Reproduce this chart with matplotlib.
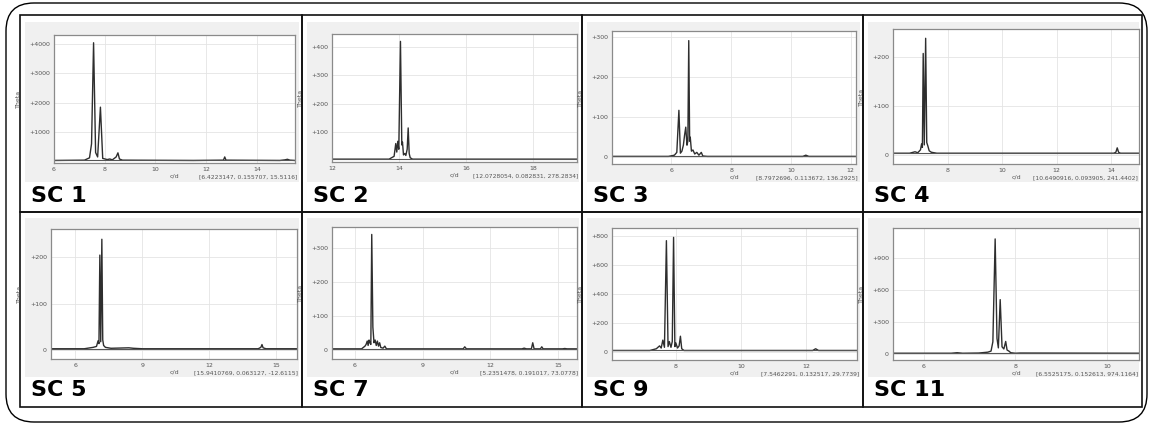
import matplotlib
matplotlib.use("Agg")
import matplotlib.pyplot as plt
from matplotlib.patches import FancyBboxPatch, Rectangle

W, H = 1152, 428

# --- data (frequency c/d, Theta) ---
sc1_x = [6.0, 7.2, 7.4, 7.48, 7.56, 7.64, 7.72, 7.83, 7.92, 8.1, 8.2, 8.3, 8.45, 8.52, 8.58, 8.7,
         11.5, 12.68, 12.73, 12.78, 14.9, 15.1, 15.2, 15.3, 15.5]
sc1_y = [30, 40, 120, 600, 4050, 300, 150, 1850, 100, 60, 80, 50, 150, 290, 80, 40,
         30, 40, 150, 40, 30, 50, 70, 40, 30]
sc2_x = [12.03, 13.7, 13.85, 13.9, 13.93, 13.96, 13.99, 14.04, 14.08, 14.1, 14.13, 14.17, 14.2,
         14.24, 14.27, 14.3, 14.33, 14.4, 19.3]
sc2_y = [5, 5, 15, 60, 30, 68, 40, 420, 55, 65, 20, 25, 18, 40, 115, 25, 10, 5, 5]
sc3_x = [4.01, 5.9, 6.1, 6.18, 6.25, 6.3, 6.35, 6.4, 6.44, 6.48, 6.52, 6.55, 6.58, 6.61, 6.63,
         6.67, 6.72, 6.78, 6.85, 6.92, 7.0, 7.05, 7.2, 10.4, 10.5, 10.6, 12.18]
sc3_y = [2, 2, 5, 12, 117, 10, 15, 30, 55, 75, 30, 40, 291, 40, 50,
         15, 18, 8, 12, 5, 12, 3, 2, 2, 5, 2, 2]
sc4_x = [5.99, 6.6, 6.8, 6.9, 7.0, 7.04, 7.07, 7.1, 7.14, 7.19, 7.23, 7.27, 7.32, 7.4, 7.6,
         14.1, 14.18, 14.23, 14.28, 14.35, 15.03]
sc4_y = [3, 3, 6, 4, 10, 22, 15, 207, 20, 238, 25, 18, 8, 5, 3, 3, 5, 14, 5, 3, 3]
sc5_x = [4.91, 6.4, 6.8, 6.95, 7.02, 7.06, 7.1, 7.14, 7.19, 7.23, 7.27, 7.35, 7.6, 8.4, 8.6, 9.0,
         14.2, 14.32, 14.37, 14.42, 14.55, 15.94]
sc5_y = [3, 3, 6, 8, 20, 14, 204, 18, 238, 22, 10, 6, 4, 5, 4, 3, 3, 6, 12, 5, 3, 3]
sc7_x = [4.99, 6.3, 6.45, 6.5, 6.55, 6.59, 6.63, 6.67, 6.71, 6.75, 6.8, 6.85, 6.9, 6.95, 7.0,
         7.05, 7.1, 7.15, 7.25, 7.33, 7.4, 10.8, 10.87, 10.94, 13.4, 13.5, 13.6, 13.82, 13.88,
         13.94, 14.22, 14.28, 14.34, 15.2, 15.3, 15.4, 15.84]
sc7_y = [2, 2, 10, 15, 25, 12, 28, 20, 15, 340, 66, 20, 28, 12, 25,
         10, 20, 6, 4, 10, 2, 2, 8, 2, 2, 4, 2, 2, 20,
         2, 2, 8, 2, 2, 3, 2, 2]
sc9_x = [6.04, 7.2, 7.4, 7.5, 7.55, 7.6, 7.65, 7.71, 7.76, 7.8, 7.85, 7.89, 7.93, 7.97, 8.0,
         8.05, 8.1, 8.14, 8.18, 8.25, 12.2, 12.29, 12.38, 13.56]
sc9_y = [8, 8, 20, 40, 25, 80, 30, 770, 35, 70, 30, 70, 793, 35, 60,
         25, 40, 107, 20, 8, 8, 20, 8, 8]
sc11_x = [5.33, 6.6, 6.73, 6.85, 7.2, 7.4, 7.47, 7.51, 7.56, 7.6, 7.63, 7.67, 7.71, 7.75, 7.79,
          7.82, 7.86, 7.9, 8.0, 8.1, 10.7]
sc11_y = [10, 10, 15, 10, 12, 20, 30, 117, 1076, 148, 60, 510, 70, 50, 120,
          40, 30, 15, 10, 12, 10]

titles = ["SC 1", "SC 2", "SC 3", "SC 4", "SC 5", "SC 7", "SC 9", "SC 11"]
xs = [sc1_x, sc2_x, sc3_x, sc4_x, sc5_x, sc7_x, sc9_x, sc11_x]
ys = [sc1_y, sc2_y, sc3_y, sc4_y, sc5_y, sc7_y, sc9_y, sc11_y]
xlims = [(6, 15.5), (12.03, 19.3), (4.01, 12.18), (5.99, 15.03),
         (4.91, 15.94), (4.99, 15.84), (6.04, 13.56), (5.33, 10.7)]
ylims = [(-57, 4315), (-5, 446), (-17, 315), (-19, 257),
         (-19, 260), (-28, 362), (-58, 858), (-53, 1178)]
xticks = [[6, 8, 10, 12, 14], [12, 14, 16, 18], [6, 8, 10, 12], [8, 10, 12, 14],
          [6, 9, 12, 15], [6, 9, 12, 15], [8, 10, 12], [6, 8, 10]]
yticks = [[1000, 2000, 3000, 4000], [100, 200, 300, 400], [0, 100, 200, 300], [0, 100, 200],
          [0, 100, 200], [0, 100, 200, 300], [0, 200, 400, 600, 800], [0, 300, 600, 900]]
readouts = ["[6.4223147, 0.155707, 15.5116]", "[12.0728054, 0.082831, 278.2834]",
            "[8.7972696, 0.113672, 136.2925]", "[10.6490916, 0.093905, 241.4402]",
            "[15.9410769, 0.063127, -12.6115]", "[5.2351478, 0.191017, 73.0778]",
            "[7.5462291, 0.132517, 29.7739]", "[6.5525175, 0.152613, 974.1164]"]

# pixel layout
col_edges = [20, 302, 582, 863, 1142]
row_edges = [15, 212, 407]
axes_px = [(54, 35, 295, 163), (332, 34, 577, 162), (612, 31, 856, 164), (893, 29, 1139, 164),
           (51, 229, 297, 359), (332, 227, 577, 359), (612, 228, 857, 360), (893, 228, 1139, 360)]


def frac(x0, y0, x1, y1):
    return [x0 / W, 1 - y1 / H, (x1 - x0) / W, (y1 - y0) / H]


fig = plt.figure(figsize=(W / 100, H / 100), dpi=100)
bg = fig.add_axes([0, 0, 1, 1])
bg.set_xlim(0, W)
bg.set_ylim(H, 0)
bg.axis("off")

# outer rounded frame
bg.add_patch(FancyBboxPatch((6, 3), 1141, 419, boxstyle="round,pad=0,rounding_size=28",
                            fc="white", ec="black", lw=1.0))

for i in range(8):
    r, c = divmod(i, 4)
    cx0, cx1 = col_edges[c], col_edges[c + 1]
    cy0, cy1 = row_edges[r], row_edges[r + 1]
    gy0, gy1 = (22, 182) if r == 0 else (218, 377)
    bg.add_patch(Rectangle((cx0 + 5, gy0), cx1 - cx0 - 8, gy1 - gy0, fc="#f0f0f0", ec="none"))
    bg.add_patch(Rectangle((cx0, cy0), cx1 - cx0, cy1 - cy0, fc="none", ec="#111111", lw=1.2))
    bg.text(cx0 + 11, 196 if r == 0 else 390, titles[i], fontsize=16, fontweight="bold",
            va="center", ha="left", color="black")

    x0, y0, x1, y1 = axes_px[i]
    ax = fig.add_axes(frac(x0, y0, x1, y1))
    ax.plot(xs[i], ys[i], color="#2e2e2e", lw=1.0)
    ax.axhline(ys[i][0], color="#555555", lw=0.8)
    ax.set_xlim(*xlims[i])
    ax.set_ylim(*ylims[i])
    ax.set_xticks(xticks[i])
    ax.set_yticks(yticks[i])
    ax.set_yticklabels([("+%d" % v) if v else "0" for v in yticks[i]])
    ax.tick_params(length=0, labelsize=4.5, labelcolor="#555555", pad=3)
    ax.grid(True, color="#e4e4e4", lw=0.6)
    ax.set_axisbelow(True)
    for s in ax.spines.values():
        s.set_color("#8a8a8a")
        s.set_linewidth(0.9)
    ax.set_ylabel("Theta", fontsize=4.5, color="#555555", labelpad=6)
    ax.set_xlabel("c/d", fontsize=4.5, color="#555555", labelpad=1)
    bg.text(min(x1 + 2, cx1 - 4), y1 + 14, readouts[i], fontsize=4.3, color="#555555",
            ha="right", va="center")

fig.savefig("out.png", dpi=100)
